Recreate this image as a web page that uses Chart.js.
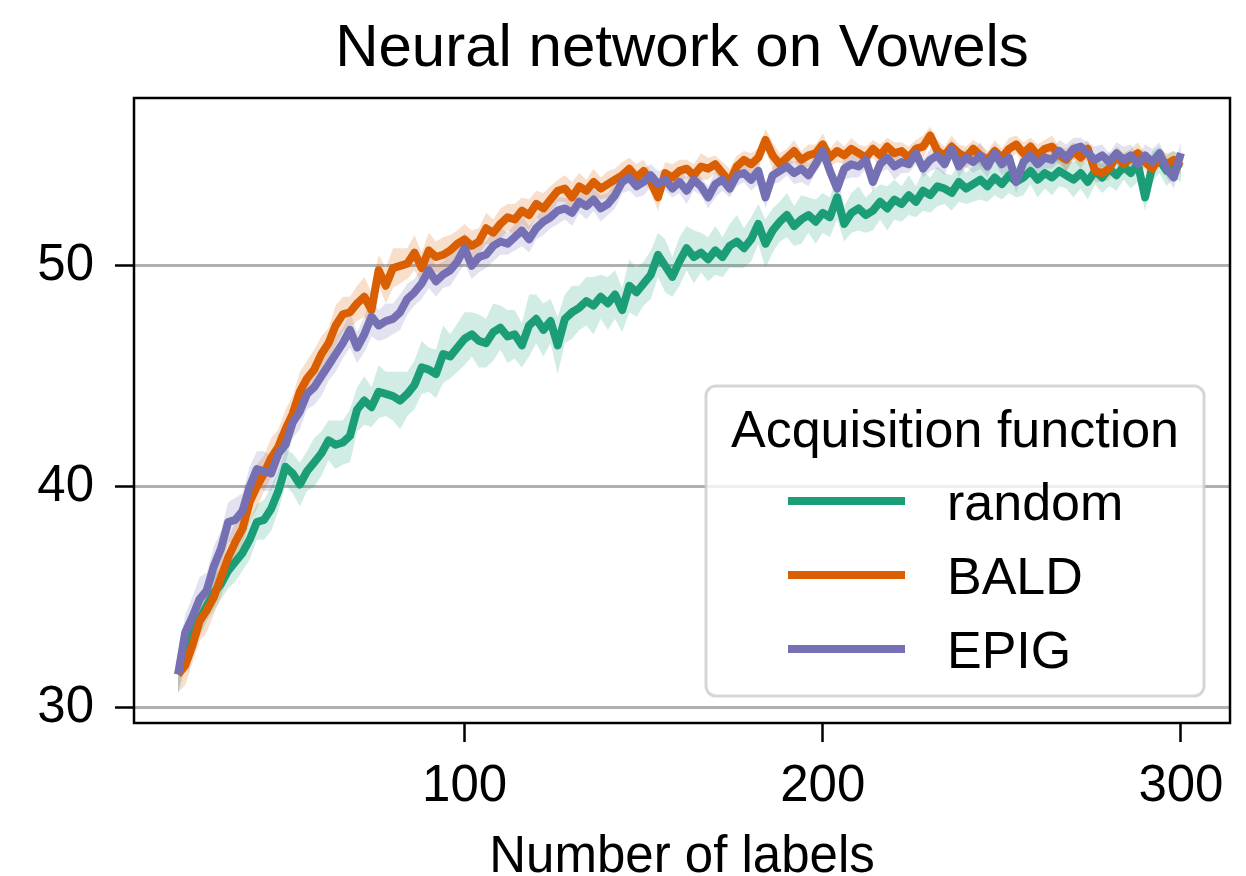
<!DOCTYPE html>
<html>
<head>
<meta charset="utf-8">
<script src="https://cdn.jsdelivr.net/npm/chart.js@4.4.1/dist/chart.umd.min.js"></script>
<style>
  html, body { margin: 0; padding: 0; background: #fff; }
  #wrap { width: 1246px; height: 876px; }
</style>
</head>
<body>
<div id="wrap"><canvas id="chart" width="1246" height="876"></canvas></div>
<script>
const labelCounts = [
  20, 22, 24, 26, 28, 30, 32, 34, 36, 38, 40, 42, 44, 46, 48, 50,
  52, 54, 56, 58, 60, 62, 64, 66, 68, 70, 72, 74, 76, 78, 80, 82, 84, 86, 88, 90, 92, 94, 96, 98, 100,
  102, 104, 106, 108, 110, 112, 114, 116, 118, 120, 122, 124, 126, 128, 130, 132, 134, 136, 138, 140, 142, 144, 146, 148, 150,
  152, 154, 156, 158, 160, 162, 164, 166, 168, 170, 172, 174, 176, 178, 180, 182, 184, 186, 188, 190, 192, 194, 196, 198, 200,
  202, 204, 206, 208, 210, 212, 214, 216, 218, 220, 222, 224, 226, 228, 230, 232, 234, 236, 238, 240, 242, 244, 246, 248, 250,
  252, 254, 256, 258, 260, 262, 264, 266, 268, 270, 272, 274, 276, 278, 280, 282, 284, 286, 288, 290, 292, 294, 296, 298, 300
];

const randomMean = [
  31.5, 32.6, 33.5, 34.0, 34.6, 35.2, 35.6, 36.2, 36.6, 37.0, 37.6, 38.4, 38.5, 39.0, 39.8, 40.9,
  40.6, 40.1, 40.7, 41.1, 41.5, 42.1, 41.9, 42.0, 42.3, 43.5, 43.9, 43.6, 44.3, 44.2, 44.1, 43.9, 44.2, 44.6, 45.4, 45.3, 45.1, 46.0, 45.9, 46.3, 46.7,
  46.9, 46.6, 46.5, 47.0, 47.2, 46.8, 46.9, 46.4, 47.3, 47.6, 47.1, 47.5, 46.4, 47.6, 47.9, 48.1, 48.4, 48.2, 48.6, 48.3, 48.7, 48.0, 49.1, 48.8, 49.2,
  49.6, 50.5, 50.0, 49.5, 50.2, 50.8, 50.4, 50.6, 50.3, 50.7, 50.4, 50.9, 51.1, 50.8, 51.2, 51.9, 51.0, 51.6, 52.0, 52.3, 51.8, 52.1, 52.3, 52.0, 52.4,
  52.2, 53.1, 51.9, 52.4, 52.6, 52.3, 52.5, 52.9, 52.6, 53.0, 52.8, 53.2, 52.9, 53.4, 53.2, 53.6, 53.5, 53.3, 53.8, 53.5, 53.7, 53.9, 53.6, 54.0, 53.7,
  54.1, 53.8, 54.0, 54.3, 53.9, 54.2, 54.0, 54.3, 54.1, 53.9, 54.2, 53.8, 54.3, 54.0, 54.4, 54.1, 54.5, 54.2, 54.6, 53.1, 54.5, 54.8, 54.3, 54.6, 54.4
];
const randomSpread = [
  0.9, 0.8, 0.7, 0.8, 0.7, 0.8, 0.7, 0.8, 0.9, 0.8, 0.9, 0.8, 0.9, 1.0, 0.9, 0.8,
  0.9, 1.0, 0.9, 1.1, 1.0, 0.9, 1.1, 1.0, 1.2, 1.0, 1.1, 0.9, 1.2, 1.0, 1.1, 1.3, 1.0, 1.1, 1.2, 1.0, 1.1, 1.3, 1.0, 1.1, 1.2,
  1.0, 1.2, 1.1, 1.3, 1.0, 1.2, 1.1, 1.0, 1.4, 1.1, 1.2, 1.0, 1.3, 1.1, 1.2, 1.0, 1.1, 1.3, 1.0, 1.2, 1.1, 1.0, 1.2, 1.1, 1.0,
  1.1, 1.0, 1.2, 0.9, 1.1, 1.0, 1.2, 0.9, 1.0, 1.1, 0.9, 1.0, 1.2, 0.9, 1.0, 0.9, 1.1, 1.0, 0.9, 1.0, 0.9, 1.1, 0.8, 1.0, 0.9,
  0.9, 1.0, 0.8, 0.9, 1.0, 0.8, 0.9, 0.8, 1.0, 0.9, 0.8, 0.9, 0.7, 0.9, 0.8, 0.9, 0.7, 0.8, 0.9, 0.7, 0.8, 0.9, 0.7, 0.8, 0.7,
  0.8, 0.7, 0.8, 0.6, 0.8, 0.7, 0.8, 0.7, 0.6, 0.8, 0.7, 0.8, 0.6, 0.7, 0.8, 0.7, 0.6, 0.7, 0.8, 0.6, 0.7, 0.6, 0.7, 0.6, 0.6
];

const baldMean = [
  31.5, 31.9, 32.8, 33.9, 34.4, 35.0, 35.9, 36.8, 37.5, 38.1, 39.3, 40.0, 40.6, 41.3, 41.8, 42.6,
  43.3, 44.3, 44.9, 45.3, 46.0, 46.5, 47.3, 47.8, 47.9, 48.3, 48.6, 48.0, 49.8, 49.1, 49.9, 50.0, 50.1, 50.6, 49.9, 50.7, 50.4, 50.5, 50.7, 51.0, 51.2,
  50.9, 51.1, 51.7, 51.5, 51.9, 52.2, 52.1, 52.5, 52.3, 52.8, 52.6, 53.0, 53.4, 53.5, 53.1, 53.6, 53.4, 53.8, 53.5, 53.7, 53.9, 54.1, 54.4, 54.0, 54.3,
  53.8, 53.1, 54.2, 54.0, 54.3, 54.4, 54.1, 54.5, 54.4, 54.6, 54.2, 53.8, 54.5, 54.8, 54.6, 54.9, 55.7, 55.0, 54.6, 54.9, 55.2, 54.8, 55.0, 55.1, 55.5,
  54.9, 55.2, 55.0, 55.3, 55.1, 54.9, 55.3, 55.0, 55.4, 55.1, 55.2, 54.9, 55.3, 55.4, 55.9, 55.2, 55.0, 55.4, 55.1, 54.9, 55.3, 55.0, 54.8, 55.2, 54.9,
  55.3, 55.5, 55.1, 55.4, 55.0, 55.3, 55.4, 55.0, 54.8, 55.2, 54.9, 55.3, 54.3, 54.2, 54.4, 55.0, 54.6, 54.9, 55.1, 54.7, 54.4, 54.9, 54.6, 54.8, 54.5
];
const baldSpread = [
  0.8, 0.9, 0.8, 0.9, 1.0, 0.8, 0.9, 0.8, 0.9, 0.8, 0.9, 1.0, 0.8, 0.9, 0.8, 0.9,
  0.8, 0.9, 0.8, 0.9, 0.8, 0.7, 0.9, 0.8, 0.7, 0.8, 0.9, 0.8, 0.7, 0.8, 0.9, 0.8, 0.7, 0.8, 0.7, 0.8, 0.7, 0.8, 0.7, 0.6, 0.7,
  0.7, 0.6, 0.7, 0.6, 0.7, 0.6, 0.7, 0.6, 0.7, 0.6, 0.7, 0.6, 0.5, 0.6, 0.7, 0.6, 0.5, 0.6, 0.5, 0.6, 0.5, 0.6, 0.5, 0.6, 0.5,
  0.5, 0.6, 0.5, 0.6, 0.5, 0.4, 0.5, 0.6, 0.5, 0.4, 0.5, 0.6, 0.5, 0.4, 0.5, 0.4, 0.5, 0.6, 0.5, 0.4, 0.5, 0.4, 0.5, 0.4, 0.5,
  0.4, 0.5, 0.4, 0.5, 0.4, 0.5, 0.4, 0.5, 0.4, 0.5, 0.4, 0.5, 0.4, 0.5, 0.4, 0.5, 0.4, 0.5, 0.4, 0.5, 0.4, 0.5, 0.4, 0.5, 0.4,
  0.5, 0.4, 0.5, 0.4, 0.5, 0.4, 0.5, 0.4, 0.5, 0.4, 0.5, 0.4, 0.5, 0.4, 0.5, 0.4, 0.5, 0.4, 0.5, 0.4, 0.5, 0.4, 0.5, 0.4, 0.4
];

const epigMean = [
  31.5, 33.4, 34.1, 34.9, 35.3, 36.4, 37.2, 38.4, 38.5, 38.9, 40.0, 40.8, 40.7, 40.6, 41.5, 41.9,
  42.9, 43.4, 44.2, 44.5, 45.0, 45.5, 46.0, 46.5, 47.1, 46.3, 46.9, 47.7, 47.3, 47.5, 47.6, 47.9, 48.5, 48.8, 49.2, 49.8, 49.3, 49.6, 49.8, 50.2, 50.8,
  50.0, 50.4, 50.5, 50.9, 51.1, 51.0, 51.3, 51.6, 51.2, 51.7, 52.0, 52.2, 52.5, 52.6, 52.4, 52.9, 52.7, 53.0, 52.6, 52.8, 53.2, 53.8, 54.0, 53.6, 53.8,
  54.1, 53.7, 53.9, 53.5, 53.8, 53.4, 53.9, 53.6, 53.1, 53.7, 53.9, 53.5, 54.1, 54.2, 53.9, 54.3, 53.1, 54.1, 54.3, 54.5, 54.2, 54.4, 54.1, 54.6, 55.2,
  54.3, 53.5, 54.4, 54.6, 54.5, 54.8, 53.8, 54.6, 54.9, 54.5, 54.7, 54.6, 55.1, 54.4, 54.8, 55.0, 54.6, 55.3, 54.5, 54.9, 54.7, 55.0, 54.5, 55.1, 54.6,
  54.9, 53.8, 54.7, 55.0, 54.6, 54.9, 54.8, 55.2, 54.9, 55.3, 55.4, 55.1, 54.8, 55.0, 54.7, 55.1, 54.8, 55.0, 54.6, 55.0, 54.7, 55.1, 54.4, 54.0, 55.1
];
const epigSpread = [
  0.9, 0.8, 0.9, 1.0, 0.8, 0.9, 0.8, 0.9, 1.0, 0.8, 0.9, 0.8, 0.9, 0.8, 0.9, 0.8,
  0.7, 0.8, 0.7, 0.8, 0.9, 0.7, 0.8, 0.7, 0.8, 0.7, 0.8, 0.9, 0.7, 0.8, 0.7, 0.8, 0.7, 0.6, 0.7, 0.8, 0.7, 0.6, 0.7, 0.6, 0.7,
  0.6, 0.7, 0.6, 0.7, 0.6, 0.5, 0.6, 0.7, 0.6, 0.5, 0.6, 0.5, 0.6, 0.5, 0.6, 0.5, 0.6, 0.5, 0.6, 0.5, 0.6, 0.5, 0.6, 0.5, 0.6,
  0.5, 0.6, 0.5, 0.4, 0.5, 0.6, 0.5, 0.4, 0.5, 0.6, 0.5, 0.4, 0.5, 0.4, 0.5, 0.6, 0.5, 0.4, 0.5, 0.4, 0.5, 0.6, 0.5, 0.4, 0.5,
  0.5, 0.4, 0.5, 0.6, 0.5, 0.4, 0.5, 0.4, 0.5, 0.6, 0.5, 0.4, 0.5, 0.4, 0.5, 0.6, 0.5, 0.4, 0.5, 0.4, 0.5, 0.6, 0.5, 0.4, 0.5,
  0.6, 0.5, 0.4, 0.5, 0.6, 0.5, 0.4, 0.5, 0.6, 0.5, 0.4, 0.5, 0.6, 0.5, 0.4, 0.5, 0.6, 0.5, 0.4, 0.5, 0.6, 0.5, 0.4, 0.5, 0.5
];

const xTicks = [100, 200, 300];
const yTicks = [30, 40, 50];
const seriesNames = ['random', 'BALD', 'EPIG'];
const seriesColors = ['#1b9e77', '#d95f02', '#7570b3'];
const bandColors = ['rgba(27,158,119,0.2)', 'rgba(217,95,2,0.2)', 'rgba(117,112,179,0.2)'];
const chartTitle = 'Neural network on Vowels';

const FONT = '"Liberation Sans", Arial, sans-serif';

const toPoints = arr => arr.map((v, i) => ({ x: labelCounts[i], y: v }));

const means = [randomMean, baldMean, epigMean];
const spreads = [randomSpread, baldSpread, epigSpread];

const datasets = [];
means.forEach((m, k) => {
  const s = spreads[k];
  datasets.push({
    label: seriesNames[k] + ' low',
    data: toPoints(m.map((v, i) => v - s[i])),
    borderWidth: 0,
    pointRadius: 0,
    fill: false,
    order: 10
  });
  datasets.push({
    label: seriesNames[k] + ' high',
    data: toPoints(m.map((v, i) => v + s[i])),
    borderWidth: 0,
    pointRadius: 0,
    backgroundColor: bandColors[k],
    fill: { target: datasets.length - 1 },
    order: 10
  });
});
means.forEach((m, k) => {
  datasets.push({
    label: seriesNames[k],
    data: toPoints(m),
    borderColor: seriesColors[k],
    borderWidth: 8,
    borderJoinStyle: 'round',
    pointRadius: 0,
    fill: false,
    order: 3 - k
  });
});

// box around the plot, like matplotlib spines, plus the title centred on the axes
const framePlugin = {
  id: 'frame',
  afterDatasetsDraw(chart) {
    const { ctx, chartArea: a } = chart;
    ctx.save();
    ctx.strokeStyle = '#000';
    ctx.lineWidth = 2.5;
    ctx.strokeRect(a.left, a.top, a.right - a.left, a.bottom - a.top);
    ctx.fillStyle = '#000';
    ctx.font = '60px ' + FONT;
    ctx.textAlign = 'center';
    ctx.textBaseline = 'alphabetic';
    ctx.fillText(chartTitle, (a.left + a.right) / 2, 66);
    ctx.restore();
  }
};

const legendPlugin = {
  id: 'boxLegend',
  afterDraw(chart) {
    const { ctx, chartArea: a } = chart;
    const right = a.right - 26, bottom = a.bottom - 27;
    const w = 498, h = 310;
    const left = right - w, top = bottom - h;
    ctx.save();
    ctx.beginPath();
    ctx.roundRect(left, top, w, h, 10);
    ctx.fillStyle = 'rgba(255,255,255,0.8)';
    ctx.fill();
    ctx.lineWidth = 3;
    ctx.strokeStyle = 'rgba(204,204,204,0.8)';
    ctx.stroke();

    ctx.fillStyle = '#000';
    ctx.font = '52px ' + FONT;
    ctx.textAlign = 'center';
    ctx.textBaseline = 'alphabetic';
    ctx.fillText('Acquisition function', left + w / 2, top + 61);

    ctx.textAlign = 'left';
    seriesNames.forEach((name, k) => {
      const y = top + 115 + k * 74;
      ctx.strokeStyle = seriesColors[k];
      ctx.lineWidth = 8;
      ctx.beginPath();
      ctx.moveTo(left + 82, y);
      ctx.lineTo(left + 199, y);
      ctx.stroke();
      ctx.fillStyle = '#000';
      ctx.fillText(name, left + 241, y + 19);
    });
    ctx.restore();
  }
};

new Chart(document.getElementById('chart'), {
  type: 'line',
  data: { datasets },
  plugins: [framePlugin, legendPlugin],
  options: {
    responsive: false,
    animation: false,
    devicePixelRatio: 1,
    layout: { padding: { top: 98, right: 16, bottom: 0, left: 0 } },
    plugins: {
      legend: { display: false },
      tooltip: { enabled: false },
      title: { display: false }
    },
    scales: {
      x: {
        type: 'linear',
        min: 7.7,
        max: 313.7,
        afterBuildTicks: scale => { scale.ticks = xTicks.map(v => ({ value: v })); },
        afterFit: scale => { scale.height = 153; },
        grid: {
          display: true,
          drawOnChartArea: false,
          drawTicks: true,
          tickLength: 19,
          tickWidth: 2.5,
          tickColor: '#000'
        },
        border: { display: false },
        ticks: {
          color: '#000',
          font: { family: FONT, size: 51 },
          padding: 14,
          maxRotation: 0,
          autoSkip: false
        },
        title: {
          display: true,
          text: 'Number of labels',
          color: '#000',
          font: { family: FONT, size: 51, lineHeight: 0.7 },
          padding: { top: 0, bottom: 0 }
        }
      },
      y: {
        type: 'linear',
        min: 29.3,
        max: 57.6,
        afterBuildTicks: scale => { scale.ticks = yTicks.map(v => ({ value: v })); },
        afterFit: scale => { scale.width = 134; },
        grid: {
          display: true,
          color: '#b0b0b0',
          lineWidth: 3,
          drawTicks: true,
          tickLength: 19,
          tickWidth: 2.5,
          tickColor: '#000'
        },
        border: { display: false },
        ticks: {
          color: '#000',
          font: { family: FONT, size: 51 },
          padding: 21,
          autoSkip: false
        }
      }
    }
  }
});
</script>
</body>
</html>
